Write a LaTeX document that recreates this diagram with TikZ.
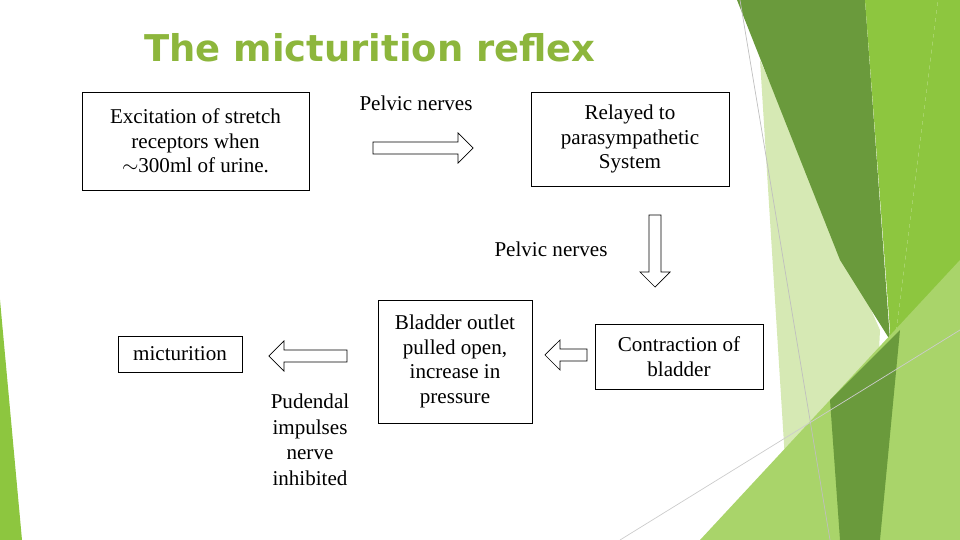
\documentclass[tikz,border=0pt]{standalone}
\usepackage{fontspec}
\setmainfont{Liberation Serif}
\newfontfamily\titlefont{DejaVu Sans}
\usetikzlibrary{shapes.arrows}
\definecolor{gA}{HTML}{8DC63F}
\definecolor{gB}{HTML}{6A9A3C}
\definecolor{gC}{HTML}{D6E9B4}
\definecolor{gD}{HTML}{A9D46A}
\definecolor{gT}{HTML}{8DB63C}
\begin{document}
\begin{tikzpicture}[x=0.02cm,y=-0.02cm,
  box/.style={draw,thin,align=center,font=\fontsize{12}{14}\selectfont,inner sep=2pt},
  txt/.style={align=center,font=\fontsize{12}{14.5}\selectfont},
  arr/.style={single arrow,draw,thin,fill=white,minimum height=#1,minimum width=30*0.02cm,single arrow head extend=5*0.02cm,inner sep=3*0.02cm}]
\useasboundingbox (0,0) rectangle (960,540);
% background decoration
\fill[gC] (760,60) -- (880,330) -- (870,540) -- (790,540) -- cycle;
\fill[gB] (737,0) -- (865,0) -- (890,340) -- (840,260) -- cycle;
\fill[gA] (865,0) -- (938,0) -- (885,420) -- (890,330) -- cycle;
\fill[gA] (938,0) -- (960,0) -- (960,540) -- (880,540) -- (885,420) -- cycle;
\fill[gD] (700,540) -- (960,260) -- (960,540) -- cycle;
\fill[gB] (830,400) -- (900,330) -- (880,540) -- (840,540) -- cycle;
\fill[gA] (0,300) -- (22,540) -- (0,540) -- cycle;
\draw[gray!50,thin] (740,0) -- (830,540);
\draw[gray!40,thin] (620,540) -- (960,330);
% title
\node (title) at (370,48) {\titlefont\bfseries\fontsize{21}{24}\selectfont\color{gT}The micturition reflex};
% boxes
\node[box,minimum width=227*0.02cm,minimum height=98*0.02cm] (b1) at (195.5,141) {Excitation of stretch\\receptors when\\$\sim$300ml of urine.};
\node[box,minimum width=198*0.02cm,minimum height=94*0.02cm] (b2) at (630,139) {Relayed to\\parasympathetic\\System};
\node[box,minimum width=168*0.02cm,minimum height=65*0.02cm] (b3) at (679,356.5) {Contraction of\\bladder};
\node[box,minimum width=154*0.02cm,minimum height=123*0.02cm] (b4) at (455,361.5) {Bladder outlet\\pulled open,\\increase in\\pressure};
\node[box,minimum width=124*0.02cm,minimum height=36*0.02cm] (b5) at (180,354) {micturition};
% labels
\node[txt] (l1) at (416,103) {Pelvic nerves};
\node[txt] (l2) at (551,249) {Pelvic nerves};
\node[txt] (l3) at (310,440) {Pudendal\\impulses\\nerve\\inhibited};
% arrows
\node[arr=100*0.02cm] (a1) at (420,148) {};
\node[arr=72*0.02cm,shape border rotate=270] (a2) at (655,248) {};
\node[arr=42*0.02cm,shape border rotate=180] (a3) at (569,355) {};
\node[arr=78*0.02cm,shape border rotate=180] (a4) at (311,356) {};
\end{tikzpicture}
\end{document}
